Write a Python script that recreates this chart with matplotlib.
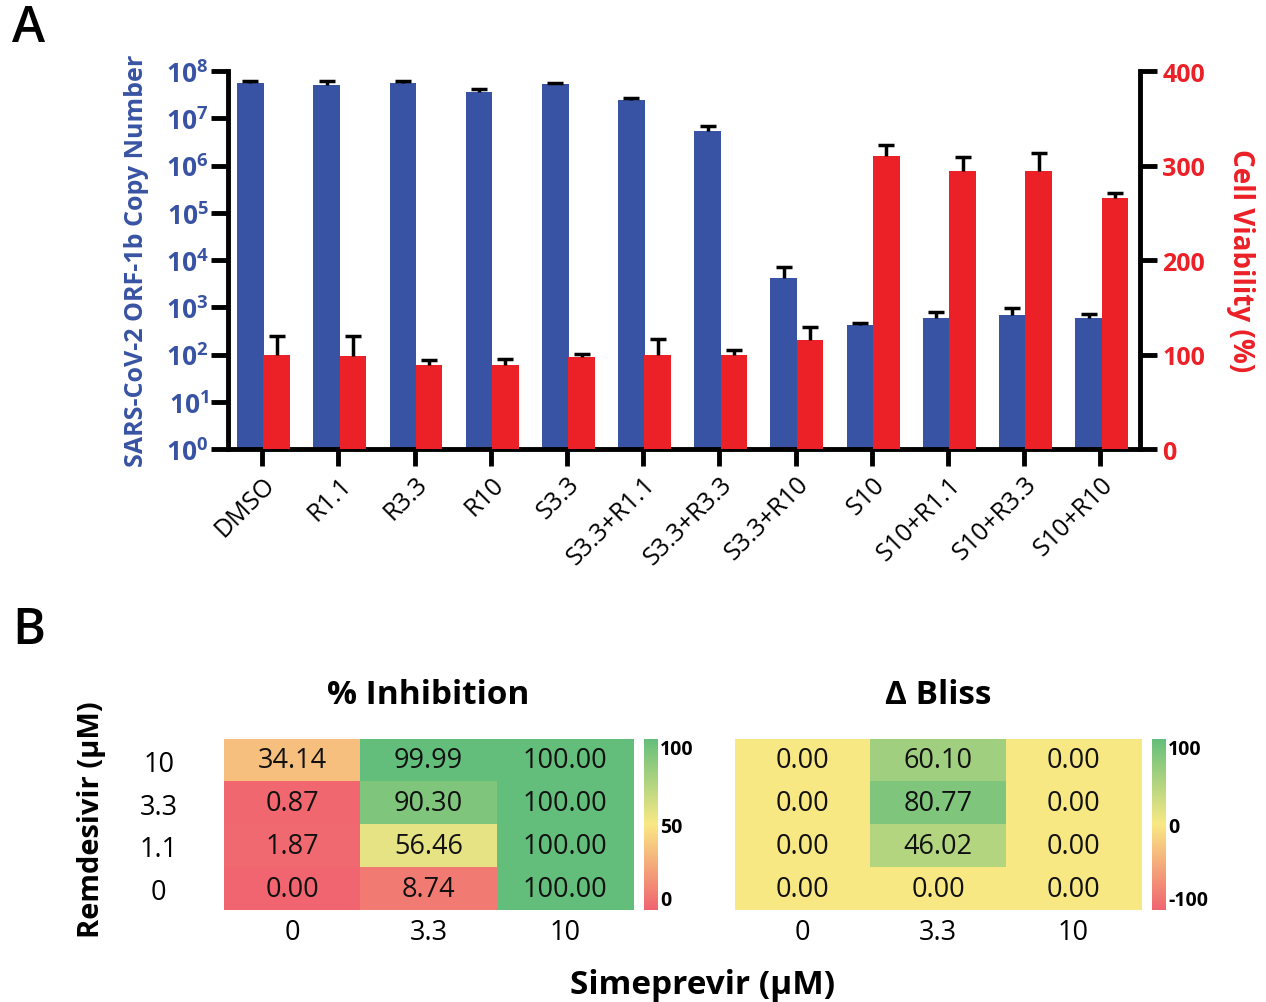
import numpy as np
import matplotlib
matplotlib.use("Agg")
import matplotlib.pyplot as plt
from matplotlib.colors import LinearSegmentedColormap
from matplotlib.ticker import FixedLocator, FuncFormatter

plt.rcParams['font.family'] = ['Open Sans', 'DejaVu Sans']
plt.rcParams['mathtext.fontset'] = 'custom'
plt.rcParams['mathtext.rm'] = 'Open Sans'
plt.rcParams['mathtext.bf'] = 'Open Sans:bold'

# ---------------- data ----------------
categories = ["DMSO", "R1.1", "R3.3", "R10", "S3.3", "S3.3+R1.1", "S3.3+R3.3",
              "S3.3+R10", "S10", "S10+R1.1", "S10+R3.3", "S10+R10"]
copy_number = [5.5e7, 5.1e7, 5.5e7, 3.55e7, 5.2e7, 2.4e7, 5.4e6,
               4.2e3, 420, 600, 700, 600]
copy_err = [0.7e7, 1.1e7, 0.5e7, 0.6e7, 0.4e7, 0.3e7, 1.4e6,
            2.8e3, 35, 195, 285, 110]
viability = [100, 98, 89, 89, 97, 100, 100, 115, 310, 294, 294, 266]
viability_err = [20, 22, 5, 6, 4, 16, 5, 14, 12, 15, 19, 5]

remdesivir_labels = ["10", "3.3", "1.1", "0"]
simeprevir_labels = ["0", "3.3", "10"]
inhibition = [[34.14, 99.99, 100.00],
              [0.87, 90.30, 100.00],
              [1.87, 56.46, 100.00],
              [0.00, 8.74, 100.00]]
bliss = [[0.00, 60.10, 0.00],
         [0.00, 80.77, 0.00],
         [0.00, 46.02, 0.00],
         [0.00, 0.00, 0.00]]

BLUE = "#3953a4"
RED = "#ec2027"
cmap = LinearSegmentedColormap.from_list("excel", ["#f06570", "#f9e985", "#63be7b"])

fig = plt.figure(figsize=(12.66, 10.03), dpi=100)

# ---------------- panel A ----------------
ax1 = fig.add_axes([0.1801, 0.5513, 0.7204, 0.3769])
ax2 = ax1.twinx()
x = np.arange(len(categories))
w = 0.35
ax1.set_yscale('log')
ax1.bar(x - 0.155, copy_number, width=w, color=BLUE, zorder=2)
eb1 = ax1.errorbar(x - 0.155, copy_number, yerr=[np.zeros(len(x)), copy_err], fmt='none',
                   ecolor='black', elinewidth=2.5, capsize=6, capthick=2.5, zorder=3)
ax2.bar(x + 0.19, viability, width=w, color=RED, zorder=2)
eb2 = ax2.errorbar(x + 0.19, viability, yerr=[np.zeros(len(x)), viability_err], fmt='none',
                   ecolor='black', elinewidth=2.5, capsize=6, capthick=2.5, zorder=3)
# hide the lower caps (only upper error bars are shown)
for eb in (eb1, eb2):
    eb[1][0].set_visible(False)

ax1.set_ylim(1, 1e8)
ax1.set_xlim(-0.45, 11.52)
ax2.set_ylim(0, 400)
ax1.yaxis.set_major_locator(FixedLocator([10.0 ** k for k in range(9)]))
ax1.yaxis.set_minor_locator(FixedLocator([]))
ax1.yaxis.set_major_formatter(FuncFormatter(lambda v, p: r'$\mathbf{10^{%d}}$' % int(round(np.log10(v)))))
ax2.set_yticks([0, 100, 200, 300, 400])

for s in ['top', 'right']:
    ax1.spines[s].set_visible(False)
for s in ['top', 'left', 'bottom']:
    ax2.spines[s].set_visible(False)
for s in ['left', 'bottom']:
    ax1.spines[s].set_linewidth(3.5)
ax2.spines['right'].set_linewidth(3.5)

ax1.tick_params(axis='y', length=12, width=3.5, labelsize=19, labelcolor=BLUE, pad=2)
ax1.tick_params(axis='x', length=12, width=3.5, labelsize=18, pad=4)
ax2.tick_params(axis='y', length=12, width=3.5, labelsize=18, labelcolor=RED, pad=4)
for t in ax2.get_yticklabels():
    t.set_fontweight('bold')
ax1.set_xticks(x)
ax1.set_xticklabels(categories, rotation=45, ha='right', rotation_mode='anchor')

ax1.set_ylabel("SARS-CoV-2 ORF-1b Copy Number", color=BLUE, fontsize=18,
               fontweight='bold', labelpad=12)
ax2.set_ylabel("Cell Viability (%)", color=RED, fontsize=20, fontweight='bold',
               rotation=-90, labelpad=36)

fig.text(12 / 1266, 1 - 29 / 1003, "A", fontsize=36, fontweight='semibold', va='center', ha='left')
fig.text(12 / 1266, 1 - 631 / 1003, "B", fontsize=36, fontweight='semibold', va='center', ha='left')


# ---------------- panel B ----------------
def heat(pos, data, vmin, vmax, title, show_rows):
    ax = fig.add_axes(pos)
    arr = np.array(data)
    ax.imshow(arr, cmap=cmap, vmin=vmin, vmax=vmax, aspect='auto')
    for i in range(arr.shape[0]):
        for j in range(arr.shape[1]):
            ax.text(j, i, f"{arr[i, j]:.2f}", ha='center', va='center', fontsize=19.5, color='#111111')
    for s in ax.spines.values():
        s.set_visible(False)
    ax.set_xticks(range(len(simeprevir_labels)))
    ax.set_xticklabels(simeprevir_labels, fontsize=19.5)
    ax.tick_params(length=0)
    ax.tick_params(axis='x', pad=6)
    if show_rows:
        ax.set_yticks(range(len(remdesivir_labels)))
        ax.set_yticklabels(remdesivir_labels, fontsize=19.5, ha='center')
        ax.tick_params(axis='y', pad=47)
    else:
        ax.set_yticks([])
    ax.set_title(title, fontsize=24, fontweight='bold', pad=26)
    return ax


def cbar(pos, vmin, vmax, ticks):
    cax = fig.add_axes(pos)
    grad = np.linspace(vmax, vmin, 256).reshape(-1, 1)
    cax.imshow(grad, cmap=cmap, vmin=vmin, vmax=vmax, aspect='auto',
               extent=[0, 1, vmin, vmax])
    for s in cax.spines.values():
        s.set_visible(False)
    cax.set_xticks([])
    cax.yaxis.tick_right()
    cax.set_yticks(ticks)
    cax.set_yticklabels([str(t) for t in ticks], fontsize=14, fontweight='bold')
    cax.tick_params(length=0, pad=2)
    labs = cax.get_yticklabels()
    labs[0].set_va('bottom')
    labs[-1].set_va('top')


heat([0.1769, 0.0917, 0.3231, 0.1705], inhibition, 0, 100, "% Inhibition", True)
cbar([0.5087, 0.0917, 0.0103, 0.1705], 0, 100, [0, 50, 100])
heat([0.5806, 0.0917, 0.3207, 0.1705], bliss, -100, 100, "Δ Bliss", False)
cbar([0.9100, 0.0917, 0.0103, 0.1705], -100, 100, [-100, 0, 100])

fig.text(92 / 1266, 1 - 820 / 1003, "Remdesivir (µM)", rotation=90, fontsize=21,
         fontweight='bold', ha='center', va='center')
fig.text(703 / 1266, 1 - 985 / 1003, "Simeprevir (µM)", fontsize=24,
         fontweight='bold', ha='center', va='center')

fig.savefig("out.png", dpi=100)
